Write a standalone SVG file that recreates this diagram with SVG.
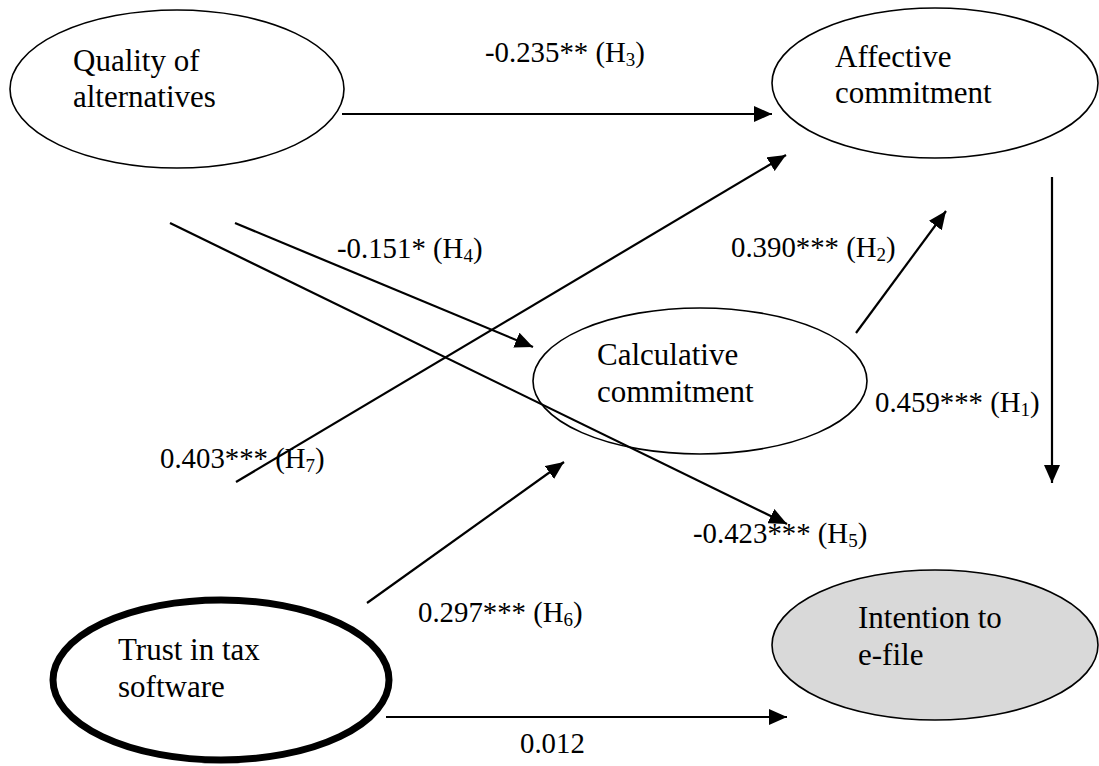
<svg xmlns="http://www.w3.org/2000/svg" width="1099" height="766" viewBox="0 0 1099 766">
<defs>
<style>
.node{fill:#fff;stroke:#000;stroke-width:1.6}
.thick{fill:#fff;stroke:#000;stroke-width:7}
.grey{fill:#d9d9d9;stroke:#000;stroke-width:1.6}
.nt{font-family:"Liberation Serif","Times New Roman",serif;font-size:31px;fill:#000}
.lb{font-family:"Liberation Serif","Times New Roman",serif;font-size:28.8px;fill:#000}
.sub{font-size:19px}
.edge{stroke:#000;stroke-width:2.2;fill:none;marker-end:url(#ah)}
</style>
<marker id="ah" markerUnits="userSpaceOnUse" markerWidth="18" markerHeight="16" viewBox="0 0 18 16" refX="18" refY="8" orient="auto">
<path d="M0,0 L18,8 L0,16 Z" fill="#000"/>
</marker>
</defs>
<rect width="1099" height="766" fill="#fff"/>
<g id="quality">
<ellipse class="node" cx="177" cy="89" rx="167" ry="79"/>
<text class="nt" x="73" y="71">Quality of</text>
<text class="nt" x="73" y="107">alternatives</text>
</g>
<g id="affective">
<ellipse class="node" cx="935" cy="83" rx="163" ry="75"/>
<text class="nt" x="835" y="67">Affective</text>
<text class="nt" x="835" y="103">commitment</text>
</g>
<g id="calculative">
<ellipse class="node" cx="700" cy="381" rx="167" ry="73"/>
<text class="nt" x="597" y="365">Calculative</text>
<text class="nt" x="597" y="402">commitment</text>
</g>
<g id="intention">
<ellipse class="grey" cx="935" cy="645" rx="163" ry="75"/>
<text class="nt" x="858" y="628">Intention to</text>
<text class="nt" x="858" y="665">e-file</text>
</g>
<g id="trust">
<ellipse class="thick" cx="221" cy="680" rx="168" ry="80"/>
<text class="nt" x="118" y="660">Trust in tax</text>
<text class="nt" x="118" y="697">software</text>
</g>
<g id="connectors">
<line class="edge" x1="342" y1="114" x2="772" y2="114"/>
<line class="edge" x1="170" y1="223" x2="787" y2="524"/>
<line class="edge" x1="235" y1="223" x2="533" y2="347"/>
<line class="edge" x1="236" y1="482" x2="786" y2="155"/>
<line class="edge" x1="856" y1="333" x2="946" y2="211"/>
<line class="edge" x1="1052" y1="177" x2="1052" y2="483"/>
<line class="edge" x1="367" y1="603" x2="564" y2="462"/>
<line class="edge" x1="386" y1="717" x2="787" y2="717"/>
</g>
<g id="labels">
<text class="lb" x="485" y="62">-0.235** (H<tspan class="sub" dy="4">3</tspan><tspan dy="-4">)</tspan></text>
<text class="lb" x="337" y="258">-0.151* (H<tspan class="sub" dy="4">4</tspan><tspan dy="-4">)</tspan></text>
<text class="lb" x="731" y="257">0.390*** (H<tspan class="sub" dy="4">2</tspan><tspan dy="-4">)</tspan></text>
<text class="lb" x="875" y="412">0.459*** (H<tspan class="sub" dy="4">1</tspan><tspan dy="-4">)</tspan></text>
<text class="lb" x="160" y="468">0.403*** (H<tspan class="sub" dy="4">7</tspan><tspan dy="-4">)</tspan></text>
<text class="lb" x="693" y="543">-0.423*** (H<tspan class="sub" dy="4">5</tspan><tspan dy="-4">)</tspan></text>
<text class="lb" x="418" y="622">0.297*** (H<tspan class="sub" dy="4">6</tspan><tspan dy="-4">)</tspan></text>
<text class="lb" x="520" y="753">0.012</text>
</g>
</svg>
